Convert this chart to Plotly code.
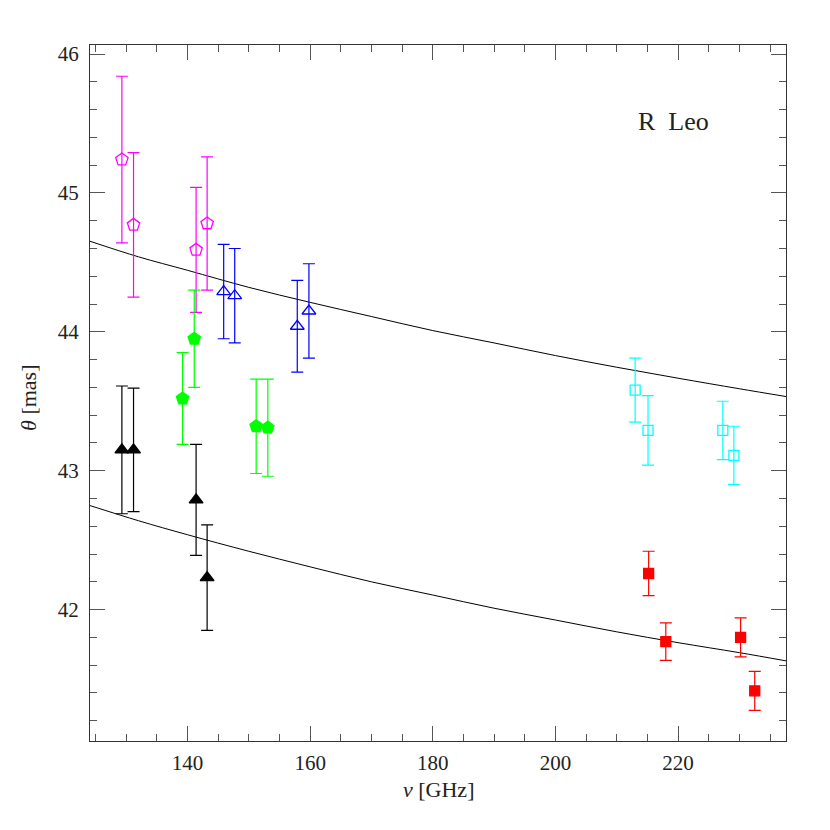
import plotly.graph_objects as go

# magenta open pentagons
mag_nu = [129.3, 131.2, 141.4, 143.2]
mag_th = [45.24, 44.77, 44.59, 44.78]
mag_err = [0.60, 0.52, 0.45, 0.48]

# blue open triangles
blu_nu = [145.9, 147.7, 157.9, 159.8]
blu_th = [44.29, 44.26, 44.04, 44.15]
blu_err = [0.34, 0.34, 0.33, 0.34]

# green filled pentagons
grn_nu = [139.2, 141.1, 151.2, 153.1]
grn_th = [43.52, 43.95, 43.32, 43.31]
grn_err = [0.33, 0.35, 0.34, 0.35]

# black filled triangles
blk_nu = [129.3, 131.2, 141.4, 143.2]
blk_th = [43.15, 43.15, 42.79, 42.23]
blk_err = [0.46, 0.445, 0.40, 0.38]

# cyan open squares
cyn_nu = [213.0, 215.1, 227.3, 229.1]
cyn_th = [43.58, 43.29, 43.29, 43.11]
cyn_err = [0.23, 0.25, 0.21, 0.21]

# red filled squares
red_nu = [215.2, 218.0, 230.2, 232.5]
red_th = [42.26, 41.77, 41.80, 41.415]
red_err = [0.16, 0.135, 0.14, 0.14]

# model curves
curve_nu = [124.1, 132, 140, 150, 160, 170, 180, 190, 200, 210, 220, 230, 237.6]
curve_up = [44.652, 44.54, 44.443, 44.32, 44.212, 44.11, 44.009, 43.92, 43.829, 43.745, 43.666, 43.59, 43.534]
curve_lo = [42.749, 42.64, 42.539, 42.42, 42.308, 42.20, 42.105, 42.01, 41.925, 41.84, 41.762, 41.69, 41.631]

FONT = "Liberation Serif"
fig = go.Figure()

for nu, th in [(curve_nu, curve_up), (curve_nu, curve_lo)]:
    fig.add_trace(go.Scatter(x=nu, y=th, mode="lines", line=dict(color="black", width=1, shape="spline"),
                             showlegend=False, hoverinfo="skip"))

series = [
    (mag_nu, mag_th, mag_err, "#ff00ff", "pentagon-open", 13),
    (blu_nu, blu_th, blu_err, "#0000ff", "triangle-up-open", 12),
    (grn_nu, grn_th, grn_err, "#00ff00", "pentagon", 13),
    (blk_nu, blk_th, blk_err, "#000000", "triangle-up", 12),
    (cyn_nu, cyn_th, cyn_err, "#00ffff", "square-open", 10),
    (red_nu, red_th, red_err, "#ff0000", "square", 10),
]
for nu, th, err, col, sym, sz in series:
    fig.add_trace(go.Scatter(
        x=nu, y=th, mode="markers",
        marker=dict(symbol=sym, size=sz, color=col, line=dict(color=col, width=1.3)),
        error_y=dict(type="data", array=err, visible=True, color=col, thickness=1.2, width=6),
        showlegend=False))

axis_common = dict(
    showgrid=False, zeroline=False, showline=True, linecolor="#333333", linewidth=1.3,
    mirror="allticks", ticks="inside", tickcolor="#555555", tickwidth=1.2,
    tickfont=dict(family=FONT, size=21, color="#222222"),
)
fig.update_xaxes(range=[124.1, 237.6], tick0=140, dtick=20, ticklen=15, ticklabelstandoff=3,
                 minor=dict(dtick=5, tick0=125, ticks="inside", ticklen=7, tickcolor="#555555", tickwidth=1.2),
                 **axis_common)
fig.update_yaxes(range=[41.054, 46.065], tick0=42, dtick=1, ticklen=15, ticklabelstandoff=6,
                 minor=dict(dtick=0.2, tick0=42, ticks="inside", ticklen=7, tickcolor="#555555", tickwidth=1.2),
                 **axis_common)

fig.add_annotation(x=219.2, y=45.517, text="R  Leo", showarrow=False,
                   font=dict(family=FONT, size=26, color="#222222"))
fig.add_annotation(xref="paper", yref="paper", x=0.5, y=-0.0704, yanchor="middle",
                   text="<i>ν</i> [GHz]", showarrow=False, font=dict(family=FONT, size=22, color="#222222"))
fig.add_annotation(xref="paper", yref="paper", x=-0.0876, y=0.493, xanchor="center", yanchor="middle",
                   text="<i>θ</i> [mas]", textangle=-90, showarrow=False,
                   font=dict(family=FONT, size=22, color="#222222"))

fig.update_layout(width=822, height=822, plot_bgcolor="white", paper_bgcolor="white",
                  margin=dict(l=82, r=44, t=37, b=89), showlegend=False)
fig.write_html("out.html")
